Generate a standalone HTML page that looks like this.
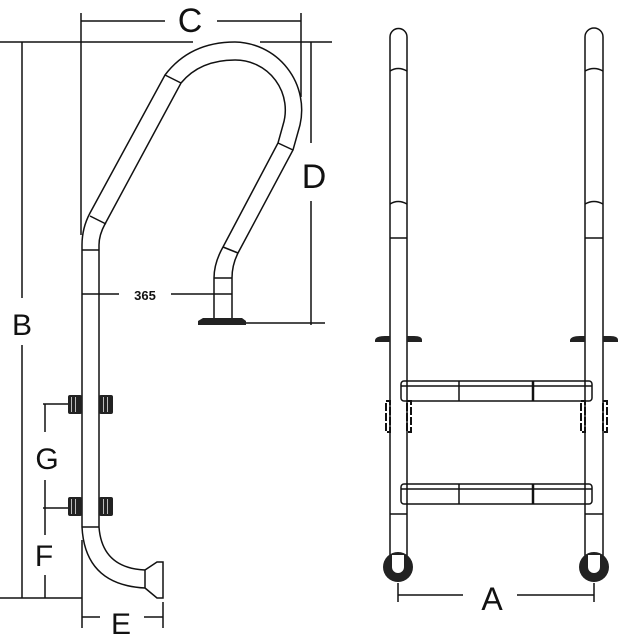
<!DOCTYPE html>
<html><head><meta charset="utf-8"><style>
html,body{margin:0;padding:0;background:#fff}
svg{display:block}
text{font-family:"Liberation Sans",sans-serif;fill:#111}
</style></head><body>
<svg width="619" height="635" viewBox="0 0 619 635" xmlns="http://www.w3.org/2000/svg">
<g stroke="#111" stroke-width="1.5" fill="none">
<line x1="81" y1="13" x2="81" y2="235"/>
<line x1="301" y1="13" x2="301" y2="97"/>
<line x1="81" y1="21" x2="165" y2="21"/>
<line x1="217" y1="21" x2="301" y2="21"/>
<line x1="0" y1="42" x2="193" y2="42"/>
<line x1="260" y1="42" x2="332" y2="42"/>
<line x1="22" y1="42" x2="22" y2="298"/>
<line x1="22" y1="345" x2="22" y2="598"/>
<line x1="0" y1="598" x2="82" y2="598"/>
<line x1="311" y1="42" x2="311" y2="143"/>
<line x1="311" y1="201" x2="311" y2="325"/>
<line x1="242" y1="323" x2="325" y2="323"/>
<line x1="82" y1="294" x2="119" y2="294"/>
<line x1="171" y1="294" x2="232" y2="294"/>
<!-- handrail arch -->
<path d="M82,250 L82,245 Q82,228 90,213 L165,75 Q190,42 235,42 A68,68 0 0 1 300,125 L293,150 L238,253 Q232,265 232,278 L232,318"/>
<path d="M99,250 L99,245 Q99,235 105,224 L181,83 Q200,60 235,60 A50,50 0 0 1 283,125 L278,143 L223,247 Q214,263 214,278 L214,318"/>
<line x1="165" y1="75" x2="181" y2="83"/>
<line x1="90" y1="216" x2="106" y2="224"/>
<line x1="278" y1="143" x2="293" y2="150"/>
<line x1="223" y1="247" x2="238" y2="253"/>
<line x1="82" y1="250" x2="99" y2="250"/>
<line x1="214" y1="278" x2="232" y2="278"/>
<line x1="82" y1="250" x2="82" y2="527"/>
<line x1="99" y1="250" x2="99" y2="527"/>
<line x1="82" y1="527" x2="99" y2="527"/>
<path d="M82,527 Q85,585 145,588"/>
<path d="M99,527 Q102,568 145,570"/>
<path d="M145,570 L145,588 M145,570 L157,562 L163,562 L163,598 L157,598 L145,588"/>
<line x1="43" y1="404" x2="68" y2="404"/>
<line x1="43" y1="508" x2="68" y2="508"/>
<line x1="45" y1="404" x2="45" y2="432"/>
<line x1="45" y1="480" x2="45" y2="535"/>
<line x1="45" y1="575" x2="45" y2="598"/>
<line x1="82" y1="540" x2="82" y2="628"/>
<line x1="163" y1="602" x2="163" y2="628"/>
<line x1="82" y1="617" x2="100" y2="617"/>
<line x1="144" y1="617" x2="163" y2="617"/>
<!-- right view tubes -->
<path d="M390,570 L390,37 A8.5,8.5 0 0 1 407,37 L407,570"/>
<path d="M585,570 L585,37 A9,9 0 0 1 603,37 L603,570"/>
<path d="M390,71 Q398,66 407,71 M390,204 Q398,199 407,204 M390,238 L407,238 M390,514 L407,514"/>
<path d="M585,71 Q594,66 603,71 M585,204 Q594,199 603,204 M585,238 L603,238 M585,514 L603,514"/>
<rect x="401" y="381" width="191" height="20" rx="3"/>
<line x1="401" y1="386" x2="592" y2="386"/>
<line x1="459" y1="381" x2="459" y2="401"/>
<line x1="533" y1="381" x2="533" y2="401" stroke-width="2.5"/>
<rect x="401" y="484" width="191" height="20" rx="3"/>
<line x1="401" y1="489" x2="592" y2="489"/>
<line x1="459" y1="484" x2="459" y2="504"/>
<line x1="533" y1="484" x2="533" y2="504" stroke-width="2.5"/>
<g stroke-width="2" stroke-dasharray="8,2">
<rect x="386" y="401" width="4" height="31"/><rect x="407" y="401" width="4" height="31"/>
<rect x="581" y="401" width="4" height="31"/><rect x="603" y="401" width="4" height="31"/>
</g>
<line x1="398" y1="583" x2="398" y2="602"/>
<line x1="594" y1="583" x2="594" y2="602"/>
<line x1="398" y1="595" x2="463" y2="595"/>
<line x1="517" y1="595" x2="594" y2="595"/>
</g>
<g fill="#222">
<path d="M198,321 L203,318 L242,318 L246,321 L246,325 L198,325 Z"/>
<rect x="68" y="395" width="14" height="19" rx="2"/>
<rect x="99" y="395" width="14" height="19" rx="2"/>
<rect x="68" y="497" width="14" height="19" rx="2"/>
<rect x="99" y="497" width="14" height="19" rx="2"/>
<path d="M375,340 Q376,336 385,336 L390,336 L390,342 L375,342 Z M407,336 L414,336 Q422,336 422,340 L422,342 L407,342 Z"/>
<path d="M570,340 Q571,336 580,336 L585,336 L585,342 L570,342 Z M603,336 L610,336 Q618,336 618,340 L618,342 L603,342 Z"/>
<circle cx="398" cy="567" r="15"/>
<circle cx="594" cy="567" r="15"/>
</g>
<g fill="#fff">
<path d="M392,555 L392,567 A6,6 0 0 0 404,567 L404,555 Z"/>
<path d="M588,555 L588,567 A6,6 0 0 0 600,567 L600,555 Z"/>
</g>
<g fill="#bbb"><rect x="71" y="397" width="1" height="15"/><rect x="75" y="397" width="1" height="15"/><rect x="103" y="397" width="1" height="15"/><rect x="107" y="397" width="1" height="15"/><rect x="71" y="499" width="1" height="15"/><rect x="75" y="499" width="1" height="15"/><rect x="103" y="499" width="1" height="15"/><rect x="107" y="499" width="1" height="15"/></g>
<text x="190" y="32" font-size="34" text-anchor="middle">C</text>
<text x="22" y="335" font-size="30" text-anchor="middle">B</text>
<text x="314" y="188" font-size="34" text-anchor="middle">D</text>
<text x="145" y="300" font-size="13" font-weight="bold" text-anchor="middle">365</text>
<text x="47" y="469" font-size="30" text-anchor="middle">G</text>
<text x="44" y="566" font-size="30" text-anchor="middle">F</text>
<text x="121" y="634" font-size="30" text-anchor="middle">E</text>
<text x="492" y="610" font-size="32" text-anchor="middle">A</text>
</svg>
</body></html>
